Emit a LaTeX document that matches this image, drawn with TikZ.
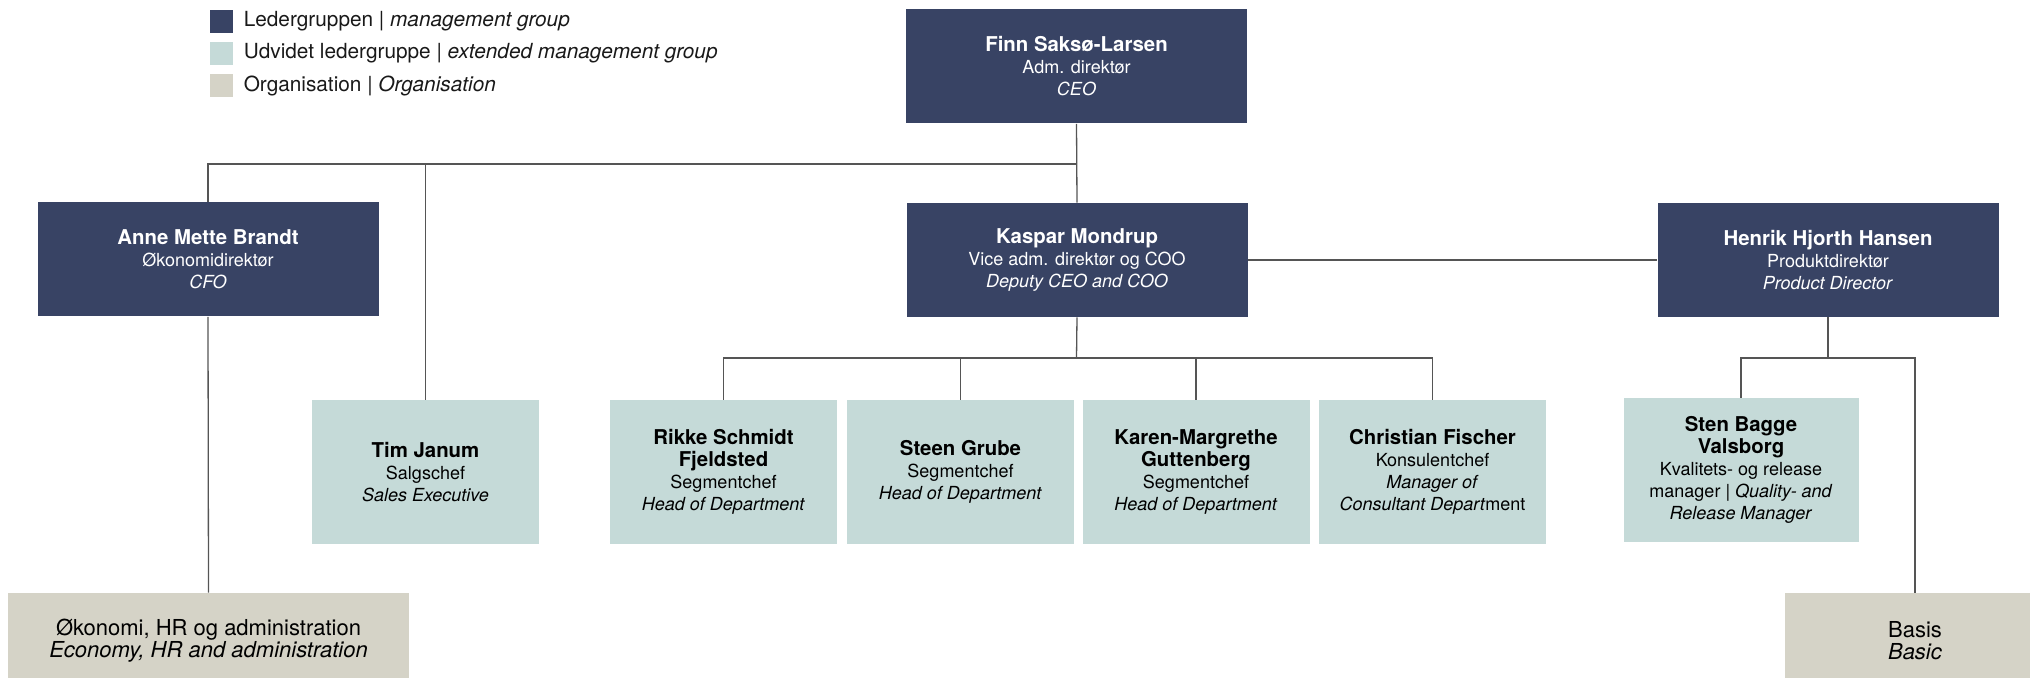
\documentclass[tikz,border=0pt]{standalone}
\usepackage{fontspec}
\setmainfont{TeX Gyre Heros}
\usetikzlibrary{positioning}

\definecolor{navy}{RGB}{56,67,100}
\definecolor{paleteal}{RGB}{197,218,216}
\definecolor{greige}{RGB}{213,211,199}
\definecolor{linegray}{RGB}{85,85,85}
\newcommand\pname[1]{{\fontsize{10.2}{12}\selectfont\bfseries #1}}

\begin{document}
\begin{tikzpicture}[x=0.5pt,y=-0.5pt,
  font=\fontsize{9}{11}\selectfont,
  box/.style={inner sep=0pt,align=center},
  mg/.style={box,fill=navy,text=white,minimum width=170.5pt,minimum height=57pt},
  emg/.style={box,fill=paleteal,text=black,minimum width=113.5pt,minimum height=72pt},
  org/.style={box,fill=greige,text=black,font=\fontsize{11}{11}\selectfont,minimum height=48pt},
  leg/.style={inner sep=0pt,minimum size=11.5pt},
  legtxt/.style={inner sep=0pt,anchor=west,font=\fontsize{10.4}{12}\selectfont,text=black!90},
  ln/.style={draw=linegray,line width=0.65pt}]
\path[use as bounding box] (0,0) rectangle (2030,678);
\clip (0,0) rectangle (2030,678);
% legend
\node[leg,fill=navy] (lg1) at (221,21.5) {};
\node[leg,fill=paleteal] (lg2) at (221,53.5) {};
\node[leg,fill=greige] (lg3) at (221,86) {};
\node[legtxt,right=5.25pt of lg1] (lt1) {Ledergruppen | \textit{management group}};
\node[legtxt,right=5.25pt of lg2] (lt2) {Udvidet ledergruppe | \textit{extended management group}};
\node[legtxt,right=5.25pt of lg3] (lt3) {Organisation | \textit{Organisation}};
% management group
\node[mg] (ceo) at (1076.5,66.5) {\pname{Finn Saksø-Larsen}\\Adm. direktør\\\textit{CEO}};
\node[mg] (cfo) at (208,259.5) {\pname{Anne Mette Brandt}\\Økonomidirektør\\\textit{CFO}};
\node[mg] (kaspar) at (1077,260) {\pname{Kaspar Mondrup}\\Vice adm. direktør og COO\\\textit{Deputy CEO and COO}};
\node[mg] (henrik) at (1828,260) {\pname{Henrik Hjorth Hansen}\\Produktdirektør\\\textit{Product Director}};
% extended management group
\node[emg] (tim) at (425.5,472) {\pname{Tim Janum}\\Salgschef\\\textit{Sales Executive}};
\node[emg] (rikke) at (723.5,472) {\pname{Rikke Schmidt}\\\pname{Fjeldsted}\\Segmentchef\\\textit{Head of Department}};
\node[emg] (steen) at (960.5,472) {\pname{Steen Grube}\\Segmentchef\\\textit{Head of Department}};
\node[emg] (karen) at (1196,472) {\pname{Karen-Margrethe}\\\pname{Guttenberg}\\Segmentchef\\\textit{Head of Department}};
\node[emg] (christian) at (1432.5,472) {\pname{Christian Fischer}\\Konsulentchef\\\textit{Manager of}\\\textit{Consultant Depart}ment};
\node[emg,minimum width=117.5pt] (sten) at (1741,470) {\pname{Sten Bagge}\\\pname{Valsborg}\\Kvalitets- og release\\manager | \textit{Quality- and}\\\textit{Release Manager}};
% organisation
\node[org,minimum width=200.5pt] (okonomi) at (208.5,641) {Økonomi, HR og administration\\\textit{Economy, HR and administration}};
\node[org,minimum width=130pt] (basis) at (1915,641) {Basis\\\textit{Basic}};
% connectors
\coordinate (top) at (1076.5,164);
\coordinate (kbus) at (1076.5,358);
\coordinate (hbus) at (1828,358);
\draw[ln] (ceo.south) -- (kaspar.north);
\draw[ln] (cfo.north) |- (top);
\draw[ln] (tim.north) |- (top);
\draw[ln] (cfo.south) -- (okonomi.north);
\draw[ln] (kaspar.east) -- (henrik.west);
\draw[ln] (kaspar.south) -- (kbus);
\foreach \d in {rikke,steen,karen,christian} \draw[ln] (\d.north) |- (kbus);
\draw[ln] (henrik.south) -- (hbus);
\draw[ln] (sten.north) |- (hbus);
\draw[ln] (basis.north) |- (hbus);
\end{tikzpicture}
\end{document}
